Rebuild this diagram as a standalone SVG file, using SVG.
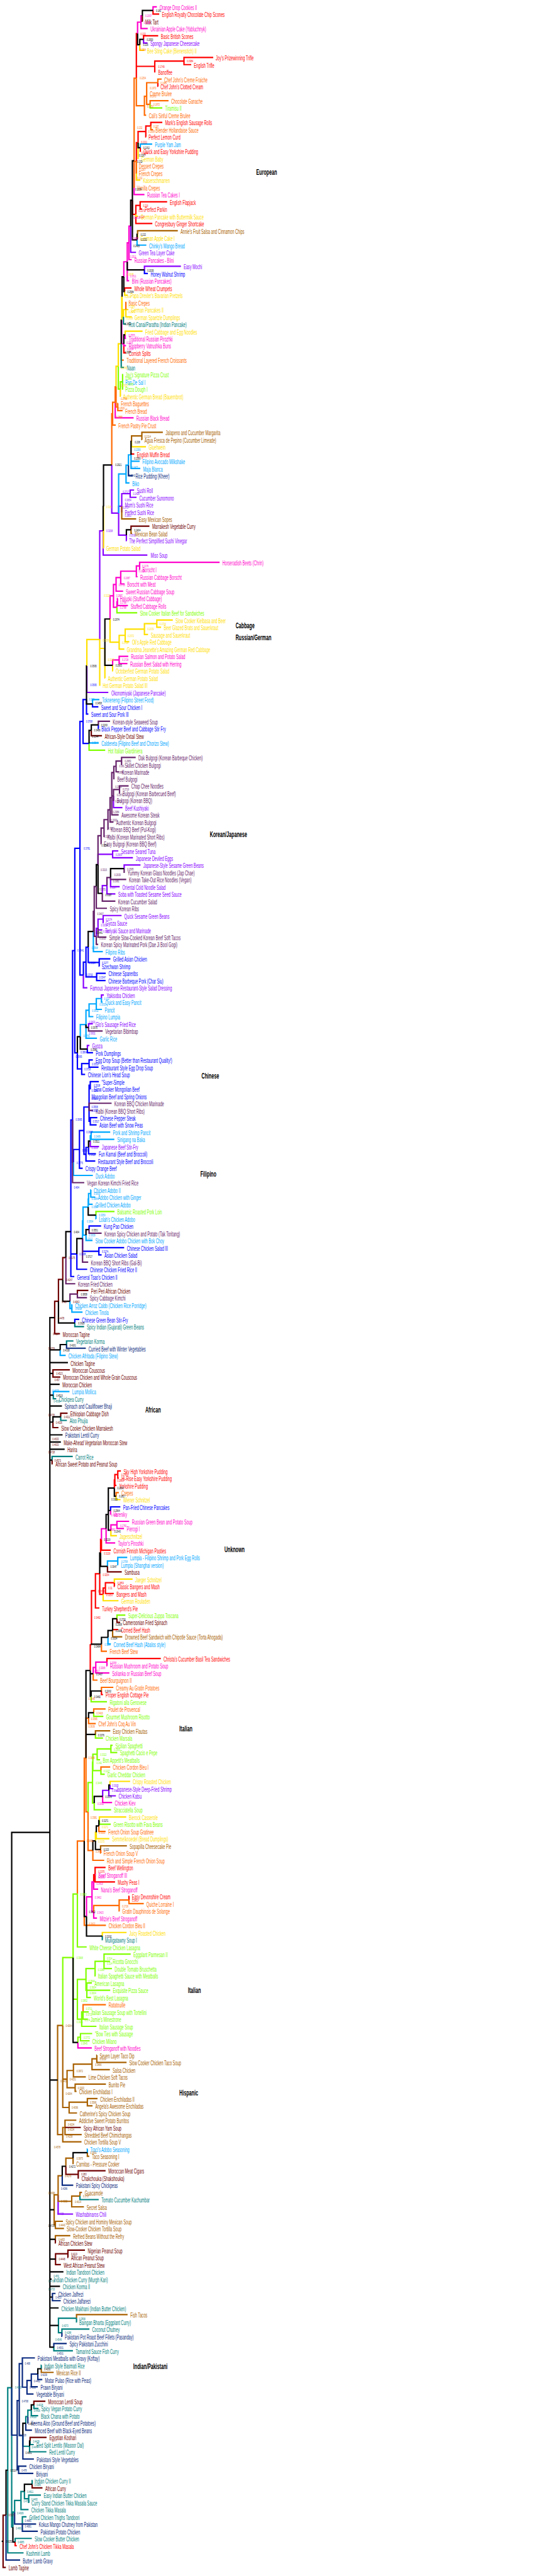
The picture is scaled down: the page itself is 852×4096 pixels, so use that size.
<svg xmlns="http://www.w3.org/2000/svg" width="852" height="4096" viewBox="0 0 852 4096">
<style>
.e path{fill:none;stroke-width:8}
.lab text,.cl text,.num text{stroke:none;font-family:"Liberation Sans",Arial,sans-serif;font-size:38px;dominant-baseline:central;transform:scaleX(.545);transform-box:fill-box;transform-origin:0 50%}
.cl text{font-weight:bold;font-size:46px;fill:#000;transform:scaleX(.57)}
.num text{font-size:22px;transform:scaleX(.55)}
.k{stroke:#000;fill:#000}.r{stroke:#f00;fill:#f00}.m{stroke:#f0c;fill:#f0c}.p{stroke:#80f;fill:#80f}.y{stroke:#ffe000;fill:#ffe000}.o{stroke:#ff6a00;fill:#ff6a00}.l{stroke:#80ff00;fill:#80ff00}.b{stroke:#00f;fill:#00f}.c{stroke:#00a8ff;fill:#00a8ff}.n{stroke:#a86000;fill:#a86000}.d{stroke:#700000;fill:#700000}.q{stroke:#66226a;fill:#66226a}.t{stroke:#008080;fill:#008080}.v{stroke:#0a2a80;fill:#0a2a80}
</style>
<rect width="852" height="4096" fill="#fff"/>
<g transform="scale(.27333)">
<g id="connectors" class="e">
<path class="r" d="M890 61V82H926M835 229V208H920M1070 355V334H1240M1070 355V376H1112M900 386V418H904M918 481V502H920M877 733V712H944M848 765V796H850M816 859V880H820M815 1195V1174H972M815 1195V1216H826M790 1247V1300H886M725 1696V1675H765M720 2000V2053H733M762 2646V2641H781M685 8578V8557H703M685 8578V8599H691M668 8610V8641H677M590 8955V9018H644M665 9207V9228H667M613 9238V9270H662M555 9254V9354H578M655 9485V9480H687M622 9669V9648H935M590 9837V9858H599M553 10906V10864H614M553 10906V10948H669M750 11053V11032H753M88 14788V14809H98M793 455V195H800M900 386V355H1070M793 455V386H900M848 765V733H877M803 830V765H848M793 939V830H803M790 1247V1195H815M770 1165V1247H790M668 8610V8578H685M665 8657V8610H668M585 9034V8955H590M613 9238V9207H665M600 9275V9238H613M580 9155V9275H600M555 9254V9155H580M532 9568V9254H555M525 9718V9568H532M545 10948V10906H553"/>
<path class="m" d="M890 61V40H912M820 129V166H859M780 935V1132H840M750 1413V1510H766M740 1523V1633H751M728 1948V1969H733M720 2000V2011H733M670 2340V2431H777M812 3292V3271H1277M812 3292V3313H813M793 3323V3355H800M702 3360V3397H724M675 3400V3439H716M683 3502V3481H684M683 3502V3523H744M693 3839V3818H746M693 3839V3860H741M643 8787V8808H646M680 8871V8850H751M680 8871V8892H721M617 8893V8976H670M622 9669V9690H624M557 9700V9732H636M597 10450V10486H652M553 10906H557M545 10948V10990H571M545 11121V11158H564M453 11882V11914H534M820 129V92H828M800 195V129H820M750 1413V1316H760M740 1523V1413H750M720 1610V1523H740M708 1863V2000H720M793 3323V3292H812M702 3360V3323H793M675 3400V3360H702M660 3466V3400H675M680 3533V3502H683M660 3466V3533H680M640 3601V3466H660M655 3870V3839H693M645 8902V8871H680M590 8955V8893H617M557 9700V9669H622M542 9737V9700H557M535 11035V10948H545M535 11035V11121H545M503 11149V11035H535"/>
<path class="p" d="M835 229V250H858M760 1316V1468H791M840 1570V1549H1052M757 2872V2851H780M757 2872V2893H794M708 2945V2935H712M708 2945V2977H712M735 3113V3145H737M600 3088V3229H857M505 3874V4028H630M660 4630V4698H712M655 4970V4950H688M655 4970V4990H773M722 5053V5032H817M643 5105V5158H696M622 5152V5200H671M600 5347V5326H707M600 5347V5368H602M570 5400V5410H595M485 5672V5746H508M590 5809V5788H604M515 5977V5956H540M508 6103V6082H520M525 6638V6670H576M640 10384V10405H659M633 10415V10447H674M338 12768V12880H425M708 2945V2872H757M690 2985V2945H708M690 2985V3113H735M650 2705V2985H690M580 3720V3088H600M570 5030V4970H655M595 5197V5152H622M570 5400V5347H600M560 5447V5400H570M597 10450V10415H633"/>
<path class="y" d="M813 260V292H840M803 830V922H806M793 939V1048H816M790 1247V1258H803M800 1363V1384H803M725 1696V1717H743M732 1801H747M732 1801V1843H767M728 1948V1927H829M700 2263V2305H703M765 2568V2599H849M602 2946V3187H604M912 3628V3607H1005M912 3628V3649H937M840 3660V3691H861M728 3696V3733H752M693 3736V3776H723M655 3870V3902H657M610 3772V3944H612M580 3720V3986H584M675 8704V8724H701M645 8902V8934H680M665 9207V9186H771M600 9275V9312H689M640 10384V10363H757M578 10591V10570H734M560 10659V10696H636M595 11263V11242H736M718 1843V1801H732M710 1726V1843H718M708 1863V1726H710M688 2131V2000H705M675 2250V2131H688M840 3660V3628H912M728 3696V3660H840M693 3736V3696H728M640 3601V3736H693M580 3720V3772H610M505 3874V3720H580M555 10709V10659H560"/>
<path class="o" d="M918 481V460H940M853 560V544H856M873 607V586H980M840 615V670H850M877 733V754H890M793 939V964H796M793 939V1006H796M780 935V1090H782M732 1801V1759H735M705 2000V2095H720M685 2368V2347H687M685 2368V2389H713M655 2407V2473H673M675 8704V8683H691M590 9565V9606H622M542 9737V9774H567M590 9837V9816H659M545 9964V9942H614M515 9995V10027H557M587 10300V10279H641M575 10622V10654H614M585 10759V10780H587M540 10765V10822H606M750 11053V11074H836M693 11085V11116H696M490 10710V11200H616M483 11704V11662H616M853 560V481H918M853 560V607H873M840 615V560H853M793 455V615H840M780 935V455H793M780 935V939H793M675 2250V2368H685M670 2340V2250H675M655 2407V2340H670M650 2705V2407H655M500 10228V9995H515M512 10540V10765H540M500 10228V10540H512M490 10710V10228H500M693 11085V11053H750M545 11121V11085H693M450 11018V10710H490"/>
<path class="l" d="M873 607V628H944M713 2221V2179H716M713 2221V2263H716M680 3533V3565H798M518 4325V4364H612M558 7069V7048H666M680 9417V9396H729M530 9868V9900H622M545 9964V9985H601M555 10090V10111H599M645 10174V10153H655M645 10174V10195H682M565 10205V10237H582M587 10300V10321H609M548 10489V10528H646M578 10591V10612H644M450 11018V11326H504M605 11410V11368H760M605 11410H640M605 11410V11452H651M553 11452V11494H556M505 11578V11536H534M505 11578H641M505 11578V11620H529M483 11704H516M483 11704V11746H511M475 11746V11788H561M468 11851V11830H536M468 11851V11872H521M700 2263V2221H713M688 2131V2263H700M565 10205V10174H645M540 10252V10205H565M540 10252V10300H587M538 10370V10252H540M538 10370V10489H548M512 10540V10370H538M425 11388V11018H450M553 11452V11410H605M500 11515V11452H553M500 11515V11578H505M450 11630V11515H500M475 11746V11704H483M450 11630V11746H475M425 11388V11630H450M453 11882V11851H468M365 11783V11388H425"/>
<path class="b" d="M840 1570V1591H860M538 4095V4112H572M503 4070V4154H514M572 4217V4238H574M577 5599V5578H642M577 5599V5620H579M562 5683V5662H615M562 5683V5704H614M508 6103V6124H541M518 6187V6166H540M518 6187V6208H573M475 6218V6250H495M525 6313V6292H575M525 6313V6334H529M518 6440V6376H522M525 6523V6502H566M525 6523V6544H562M515 6675V6712H558M500 6715V6754H554M462 6687V6796H481M518 7153V7132H588M575 7279V7258H722M575 7279V7300H591M447 7295V7384H507M412 7165V7426H432M435 7696V7675H461M643 8787V8766H700M483 4197V4070H503M483 4197V4325H518M465 4935V4197H483M513 5510V5599H577M500 5597V5510H513M500 5597V5683H562M485 5672V5597H500M465 4935V5672H485M435 5530V4935H465M475 6218V6187H518M450 6125V6218H475M435 5530V6125H450M422 6515V5530H435M518 6440V6313H525M518 6440V6523H525M488 6577V6440H518M500 6715V6675H515M488 6577V6715H500M462 6687V6577H488M427 6762V6687H462M422 6515V6762H427M412 7165V6515H422M480 7205V7279H575M412 7165V7295H447"/>
<path class="c" d="M816 859V838H885M797 1395V1426H851M713 2221H716M762 2646V2683H812M762 2646V2725H816M733 2757V2809H753M538 4095V4070H578M518 4325V4322H574M543 5419V5536H598M590 5809V5830H597M560 5840V5872H593M518 5877V5914H543M500 5960V6040H564M530 6607V6586H641M530 6607V6628H665M427 6762V6838H540M528 6943V6922H529M528 6943V6964H554M515 6975V7006H539M558 7069V7090H559M500 7185V7216H538M418 7612V7591H421M418 7612V7633H480M350 7853V7885H382M310 8116V8095H404M685 9081V9060H740M685 9081V9102H688M628 9525V9564H644M508 12523V12502H509M747 2706V2646H762M733 2757V2706H747M690 2985V2757H733M560 5840V5809H590M518 5877V5840H560M500 5960V5877H518M467 6031V5960H500M525 6638V6607H530M515 6975V6943H528M513 7022V6975H515M483 7103V7022H513M483 7103V7185H500M480 7205V7103H483M407 7570V7612H418M625 9112V9081H685"/>
<path class="n" d="M800 1363V1342H1034M825 2536V2515H947M825 2536V2557H827M708 2945V3019H792M762 3082V3103H768M655 9485V9522H711M555 10090V10069H641M585 10759V10738H738M563 11977V11956H564M563 11977V11998H736M535 12008V12040H639M427 12045V12082H499M437 12145V12124H616M437 12145V12166H445M508 12229V12208H567M508 12229V12250H538M402 12260V12292H448M378 12376V12334H444M378 12376V12418H475M365 12418V12460H474M508 12523V12544H519M425 12555V12586H428M465 12775V12754H477M417 12806V12838H488M322 12943V12922H366M322 12943V12964H372M322 13027V13006H409M445 13486V13465H742M240 13780V13801H312M765 2568V2536H825M535 12008V11977H563M427 12045V12008H535M390 12095V12045H427M390 12095V12145H437M365 11783V12095H390M402 12260V12229H508M365 11783V12260H402M335 12100V11783H365M365 12418V12376H378M335 12100V12418H365M383 12602V12555H425M338 12768V12657H362M417 12806V12775H465M338 12768V12806H417M315 12855V12768H338M315 12855V12943H322"/>
<path class="d" d="M828 92V124H829M762 3082V3061H869M531 4249V4280H593M450 7528V7507H514M318 7665V7759H349M308 7990V7969H406M308 7990V8011H351M353 8242V8221H393M308 8273V8305H340M303 8494V8515H307M625 9112V9144H708M680 9417V9438H699M378 12376H470M455 12649V12628H614M455 12649V12670H459M322 13027V13048H324M395 13111V13090H494M395 13111V13132H397M323 13142V13174H354M197 13990V13969H264M175 14200V14179H271M187 14452V14473H247M18 14784V14936H34M340 7570V7443H365M365 7443V7316H383M318 7665V7570H340M383 12602V12649H455M323 13142V13111H395M18 14784V14632H35"/>
<path class="q" d="M572 4217V4196H640M707 4427V4406H789M707 4427V4448H709M675 4458V4490H693M662 4494V4530H666M695 4593V4572H748M695 4593V4614H697M660 4630V4656H664M650 4640V4740H690M640 4711V4782H660M628 4768V4824H629M605 4817V4866H609M588 4862V4908H590M722 5053V5074H726M643 5105V5116H734M595 5197V5242H671M560 5157V5284H622M570 5400V5452H619M560 5447V5494H571M515 5977V5998H597M518 6440V6418H649M518 6440V6460H541M422 6515V6880H490M518 7153V7174H591M480 7205V7342H513M383 7316V7468H438M450 7528V7549H506M675 4458V4427H707M662 4494V4458H675M650 4640V4494H662M660 4630V4593H695M650 4640V4630H660M640 4711V4640H650M628 4768V4711H640M605 4817V4768H628M588 4862V4817H605M570 5030V4862H588M622 5152V5105H643M548 5302V5157H560M548 5302V5447H560M543 5419V5302H548M407 7570V7528H450"/>
<path class="t" d="M718 1843V1885H732M705 2000V2137H721M435 7696V7717H489M387 7822V7801H427M310 8116V8137H327M353 8242V8263H389M303 8494V8473H423M595 11263V11284H598M465 12775V12796H574M445 13486V13507H448M360 13570V13549H520M313 13654V13675H424M240 13780V13759H241M197 13990V14011H224M182 14021V14053H222M175 14200V14221H196M172 14231V14263H270M187 14452V14431H190M167 14536V14515H238M167 14536V14557H170M122 14546V14599H166M130 14683V14641H154M88 14788V14767H185M45 14370V14851H137M340 13528V13486H445M340 13528V13570H360M162 14058V14021H182M150 14097V14058H162M133 14168V14231H172M142 14494V14536H167M122 14546V14494H142M85 14614V14546H122M75 14701V14614H85M68 13890V14701H75M45 14370V13890H68"/>
<path class="v" d="M747 2706V2767H772M387 7822V7843H499M362 12657V12712H426M305 13363V13342H323M305 13363V13384H353M360 13570V13591H362M313 13654V13633H388M130 13750V13717H203M220 13811V13843H246M182 13848V13885H220M157 13887V13927H195M162 14058V14095H164M150 14097V14137H186M133 14168V14305H197M108 14368V14347H154M108 14368V14389H194M130 14683H210M130 14683V14725H220M35 14632V14893H117M182 13848V13811H220M157 13887V13848H182M130 13750V13887H157M112 13965V13750H130M100 14166V13965H112M112 13965V14168H133M100 14166V14368H108M68 13890V14166H100M85 14614V14683H130"/>
<path class="k" d="M828 92V61H890M813 260V229H835M800 195V260H813M803 830V859H816M770 1165V935H780M797 1395V1363H800M770 1165V1395H797M760 1316V1165H770M740 1523V1570H840M720 1610V1696H725M710 1726V1610H720M720 2000V1948H728M705 2000V1863H708M762 2646V2568H765M735 3113V3082H762M602 2946V2705H650M600 3088V2946H602M610 3772V3601H640M610 3772V3870H655M503 4070V3874H505M503 4070V4095H538M531 4249V4217H572M518 4325V4249H531M643 5105V5053H722M570 5030V5197H595M560 5157V5030H570M513 5510V5419H543M500 5960V5977H515M467 6031V6103H508M450 6125V6031H467M515 6675V6638H525M513 7022V7069H558M500 7185V7153H518M447 7295V7205H480M383 7316V7165H412M365 7443V7570H407M340 7570V7696H435M350 7853V7822H387M665 8657V8704H675M630 8810V8657H665M630 8810V8787H643M630 8810V8902H645M617 8893V8810H630M585 9034V9112H625M580 9155V9034H585M655 9485V9417H680M628 9525V9485H655M590 9565V9525H628M532 9568V9565H590M525 9718V9737H542M530 9868V9837H590M525 9718V9868H530M500 10228V9718H525M515 9995V9964H545M500 10228V10090H555M633 10415V10384H640M548 10489V10450H597M575 10622V10591H578M560 10659V10622H575M555 10709V10759H585M540 10765V10709H555M503 11149V11263H595M490 10710V11149H503M425 11388V11882H453M425 12555V12523H508M362 12657V12602H383M220 13811V13780H240M182 14021V13990H197M133 14168V14097H150M172 14231V14200H175M142 14494V14452H187M75 14701V14788H88M35 14632V14370H45M10 14784H18M308 8273V8242H353M68 13890V10660H290M290 10660V7665H318M290 10660V7853H350M290 10660V7927H395M290 10660V7990H308M290 10660V8053H347M290 10660V8116H310M290 10660V8179H360M290 10660V8273H308M290 10660V8347H364M290 10660V8389H354M290 10660V8431H376M290 10660V8494H303M290 10660V12100H335M290 10660V12855H315M290 10660V13027H322M290 10660V13142H323M290 10660V13216H369M290 10660V13258H300M290 10660V13300H349M290 10660V13363H305M290 10660V13426H341M290 10660V13528H340M290 10660V13654H313"/>
</g>
<g id="leaves" class="lab">
<text class="m" x="928" y="44">Orange Drop Cookies II</text>
<text class="r" x="942" y="86">English Royalty Chocolate Chip Scones</text>
<text class="d" x="845" y="128">Milk Tart</text>
<text class="m" x="875" y="170">Ukrainian Apple Cake (Yabluchnyk)</text>
<text class="r" x="936" y="212">Basic British Scones</text>
<text class="p" x="874" y="254">Spongy Japanese Cheesecake</text>
<text class="y" x="856" y="296">Bee Sting Cake (Bienenstich) II</text>
<text class="r" x="1255" y="338">Joy's Prizewinning Trifle</text>
<text class="r" x="1128" y="380">English Trifle</text>
<text class="r" x="920" y="422">Banoffee</text>
<text class="o" x="956" y="464">Chef John's Creme Fraiche</text>
<text class="r" x="934" y="506">Chef John's Clotted Cream</text>
<text class="o" x="872" y="548">Creme Brulee</text>
<text class="o" x="996" y="590">Chocolate Ganache</text>
<text class="l" x="960" y="632">Tiramisu II</text>
<text class="o" x="866" y="674">Cali's Sinful Creme Brulee</text>
<text class="r" x="960" y="716">Mark's English Sausage Rolls</text>
<text class="o" x="905" y="758">Blender Hollandaise Sauce</text>
<text class="r" x="864" y="800">Perfect Lemon Curd</text>
<text class="c" x="901" y="842">Purple Yam Jam</text>
<text class="r" x="835" y="884">Quick and Easy Yorkshire Pudding</text>
<text class="y" x="822" y="926">German Baby</text>
<text class="o" x="808" y="968">Dessert Crepes</text>
<text class="o" x="808" y="1010">French Crepes</text>
<text class="y" x="832" y="1052">Kaiserschmarren</text>
<text class="o" x="797" y="1094">Vanilla Crepes</text>
<text class="m" x="856" y="1136">Russian Tea Cakes I</text>
<text class="r" x="988" y="1178">English Flapjack</text>
<text class="r" x="842" y="1220">Perfect Parkin</text>
<text class="y" x="819" y="1262">German Pancake with Buttermilk Sauce</text>
<text class="r" x="902" y="1304">Congresbury Ginger Shortcake</text>
<text class="n" x="1050" y="1346">Annie's Fruit Salsa and Cinnamon Chips</text>
<text class="y" x="818" y="1388">German Apple Cake I</text>
<text class="c" x="867" y="1430">Chinky's Mango Bread</text>
<text class="p" x="807" y="1472">Green Tea Layer Cake</text>
<text class="m" x="782" y="1514">Russian Pancakes - Blini</text>
<text class="p" x="1068" y="1553">Easy Mochi</text>
<text class="b" x="876" y="1595">Honey Walnut Shrimp</text>
<text class="m" x="767" y="1637">Blini (Russian Pancakes)</text>
<text class="r" x="781" y="1679">Whole Wheat Crumpets</text>
<text class="y" x="759" y="1721">Papa Drexler's Bavarian Pretzels</text>
<text class="o" x="748" y="1763">Basic Crepes</text>
<text class="y" x="763" y="1805">German Pancakes II</text>
<text class="y" x="783" y="1847">German Spaetzle Dumplings</text>
<text class="t" x="748" y="1889">Roti Canai/Paratha (Indian Pancake)</text>
<text class="y" x="845" y="1931">Fried Cabbage and Egg Noodles</text>
<text class="m" x="749" y="1973">Traditional Russian Pirozhki</text>
<text class="m" x="749" y="2015">Raspberry Vatrushka Buns</text>
<text class="r" x="749" y="2057">Cornish Splits</text>
<text class="o" x="736" y="2099">Traditional Layered French Croissants</text>
<text class="t" x="737" y="2141">Naan</text>
<text class="l" x="729" y="2183">Jay's Signature Pizza Crust</text>
<text class="c" x="729" y="2225">Pan De Sal I</text>
<text class="l" x="729" y="2267">Pizza Dough I</text>
<text class="y" x="716" y="2309">Authentic German Bread (Bauernbrot)</text>
<text class="o" x="703" y="2351">French Baguettes</text>
<text class="o" x="729" y="2393">French Bread</text>
<text class="m" x="793" y="2435">Russian Black Bread</text>
<text class="o" x="689" y="2477">French Pastry Pie Crust</text>
<text class="n" x="963" y="2519">Jalapeno and Cucumber Margarita</text>
<text class="n" x="841" y="2561">Agua Fresca de Pepino (Cucumber Limeade)</text>
<text class="y" x="865" y="2603">Gluehwein</text>
<text class="r" x="797" y="2645">English Muffin Bread</text>
<text class="c" x="828" y="2687">Filipino Avocado Milkshake</text>
<text class="c" x="832" y="2729">Maja Blanca</text>
<text class="v" x="788" y="2771">Rice Pudding (Kheer)</text>
<text class="c" x="769" y="2813">Biko</text>
<text class="p" x="796" y="2855">Sushi Roll</text>
<text class="p" x="810" y="2897">Cucumber Sunomono</text>
<text class="p" x="726" y="2939">Mom's Sushi Rice</text>
<text class="p" x="726" y="2981">Perfect Sushi Rice</text>
<text class="n" x="808" y="3023">Easy Mexican Sopes</text>
<text class="d" x="885" y="3065">Marrakesh Vegetable Curry</text>
<text class="n" x="784" y="3107">Mexican Bean Salad</text>
<text class="p" x="751" y="3149">The Perfect Simplified Sushi Vinegar</text>
<text class="y" x="618" y="3191">German Potato Salad</text>
<text class="p" x="876" y="3233">Miso Soup</text>
<text class="m" x="1293" y="3275">Horseradish Beets (Chrin)</text>
<text class="m" x="829" y="3317">Borscht I</text>
<text class="m" x="816" y="3359">Russian Cabbage Borscht</text>
<text class="m" x="740" y="3401">Borscht with Meat</text>
<text class="m" x="732" y="3443">Sweet Russian Cabbage Soup</text>
<text class="m" x="698" y="3485">Halupki (Stuffed Cabbage)</text>
<text class="m" x="760" y="3527">Stuffed Cabbage Rolls</text>
<text class="l" x="814" y="3569">Slow Cooker Italian Beef for Sandwiches</text>
<text class="y" x="1021" y="3611">Slow Cooker Kielbasa and Beer</text>
<text class="y" x="953" y="3653">Beer Glazed Brats and Sauerkraut</text>
<text class="y" x="877" y="3695">Sausage and Sauerkraut</text>
<text class="y" x="768" y="3737">Oli's Apple Red Cabbage</text>
<text class="y" x="738" y="3780">Grandma Jeanette's Amazing German Red Cabbage</text>
<text class="m" x="762" y="3822">Russian Salmon and Potato Salad</text>
<text class="m" x="757" y="3864">Russian Beet Salad with Herring</text>
<text class="y" x="673" y="3906">Octoberfest German Potato Salad</text>
<text class="y" x="628" y="3948">Authentic German Potato Salad</text>
<text class="y" x="598" y="3990">Hot German Potato Salad III</text>
<text class="p" x="648" y="4032">Okonomiyaki (Japanese Pancake)</text>
<text class="c" x="594" y="4074">Tokneneng (Filipino Street Food)</text>
<text class="b" x="588" y="4116">Sweet and Sour Chicken I</text>
<text class="b" x="530" y="4158">Sweet and Sour Pork III</text>
<text class="q" x="656" y="4200">Korean-style Seaweed Soup</text>
<text class="b" x="590" y="4242">Black Pepper Beef and Cabbage Stir Fry</text>
<text class="d" x="609" y="4284">African-Style Oxtail Stew</text>
<text class="c" x="590" y="4326">Caldereta (Filipino Beef and Chorizo Stew)</text>
<text class="l" x="628" y="4368">Hot Italian Giardiniera</text>
<text class="q" x="805" y="4410">Dak Bulgogi (Korean Barbeque Chicken)</text>
<text class="q" x="725" y="4452">Skillet Chicken Bulgogi</text>
<text class="q" x="709" y="4494">Korean Marinade</text>
<text class="q" x="682" y="4534">Beef Bulgogi</text>
<text class="q" x="764" y="4576">Chap Chee Noodles</text>
<text class="q" x="713" y="4618">Bulgogi (Korean Barbecued Beef)</text>
<text class="q" x="680" y="4660">Bulgogi (Korean BBQ)</text>
<text class="p" x="728" y="4702">Beef Kushiyaki</text>
<text class="q" x="706" y="4744">Awesome Korean Steak</text>
<text class="q" x="676" y="4786">Authentic Korean Bulgogi</text>
<text class="q" x="645" y="4828">Korean BBQ Beef (Pul-Kogi)</text>
<text class="q" x="625" y="4870">Kalbi (Korean Marinated Short Ribs)</text>
<text class="q" x="605" y="4912">Easy Bulgogi (Korean BBQ Beef)</text>
<text class="p" x="704" y="4954">Sesame Seared Tuna</text>
<text class="p" x="789" y="4994">Japanese Deviled Eggs</text>
<text class="p" x="833" y="5036">Japanese-Style Sesame Green Beans</text>
<text class="q" x="742" y="5078">Yummy Korean Glass Noodles (Jap Chae)</text>
<text class="q" x="750" y="5120">Korean Take-Out Rice Noodles (Vegan)</text>
<text class="p" x="712" y="5162">Oriental Cold Noodle Salad</text>
<text class="p" x="687" y="5204">Soba with Toasted Sesame Seed Sauce</text>
<text class="q" x="687" y="5246">Korean Cucumber Salad</text>
<text class="q" x="638" y="5288">Spicy Korean Ribs</text>
<text class="p" x="723" y="5330">Quick Sesame Green Beans</text>
<text class="p" x="615" y="5372">Gyoza Sauce</text>
<text class="p" x="611" y="5414">Teriyaki Sauce and Marinade</text>
<text class="q" x="635" y="5456">Simple Slow-Cooked Korean Beef Soft Tacos</text>
<text class="q" x="587" y="5498">Korean Spicy Marinated Pork (Dae Ji Bool Gogi)</text>
<text class="c" x="614" y="5540">Filipino Ribs</text>
<text class="b" x="658" y="5582">Grilled Asian Chicken</text>
<text class="b" x="592" y="5624">Szechwan Shrimp</text>
<text class="b" x="631" y="5666">Chinese Spareribs</text>
<text class="b" x="630" y="5708">Chinese Barbeque Pork (Char Siu)</text>
<text class="p" x="524" y="5750">Famous Japanese Restaurant-Style Salad Dressing</text>
<text class="p" x="620" y="5792">Yakisoba Chicken</text>
<text class="c" x="613" y="5834">Quick and Easy Pancit</text>
<text class="c" x="609" y="5876">Pancit</text>
<text class="c" x="559" y="5918">Filipino Lumpia</text>
<text class="p" x="556" y="5960">Glo's Sausage Fried Rice</text>
<text class="q" x="612" y="6002">Vegetarian Bibimbap</text>
<text class="c" x="580" y="6044">Garlic Rice</text>
<text class="p" x="536" y="6086">Gyoza</text>
<text class="b" x="557" y="6128">Pork Dumplings</text>
<text class="b" x="556" y="6170">Egg Drop Soup (Better than Restaurant Quality!)</text>
<text class="b" x="589" y="6212">Restaurant Style Egg Drop Soup</text>
<text class="b" x="511" y="6254">Chinese Lion's Head Soup</text>
<text class="b" x="591" y="6296">"Super-Simple</text>
<text class="b" x="545" y="6338">Slow Cooker Mongolian Beef</text>
<text class="b" x="532" y="6380">Mongolian Beef and Spring Onions</text>
<text class="q" x="665" y="6422">Korean BBQ Chicken Marinade</text>
<text class="q" x="557" y="6464">Kalbi (Korean BBQ Short Ribs)</text>
<text class="b" x="582" y="6506">Chinese Pepper Steak</text>
<text class="b" x="578" y="6548">Asian Beef with Snow Peas</text>
<text class="c" x="657" y="6590">Pork and Shrimp Pancit</text>
<text class="c" x="681" y="6632">Sinigang na Baka</text>
<text class="p" x="592" y="6674">Japanese Beef Stir-Fry</text>
<text class="b" x="574" y="6716">Fun Karnal (Beef and Broccoli)</text>
<text class="b" x="570" y="6758">Restaurant Style Beef and Broccoli</text>
<text class="b" x="497" y="6800">Crispy Orange Beef</text>
<text class="c" x="556" y="6842">Duck Adobo</text>
<text class="q" x="506" y="6884">Vegan Korean Kimchi Fried Rice</text>
<text class="c" x="545" y="6926">Chicken Adobo II</text>
<text class="c" x="570" y="6968">Adobo Chicken with Ginger</text>
<text class="c" x="555" y="7010">Grilled Chicken Adobo</text>
<text class="l" x="682" y="7052">Balsamic Roasted Pork Loin</text>
<text class="c" x="575" y="7094">Lolah's Chicken Adobo</text>
<text class="b" x="604" y="7136">Kung Pao Chicken</text>
<text class="q" x="607" y="7178">Korean Spicy Chicken and Potato (Tak Toritang)</text>
<text class="c" x="554" y="7220">Slow Cooker Adobo Chicken with Bok Choy</text>
<text class="b" x="738" y="7262">Chinese Chicken Salad III</text>
<text class="b" x="607" y="7304">Asian Chicken Salad</text>
<text class="q" x="529" y="7346">Korean BBQ Short Ribs (Gal-Bi)</text>
<text class="b" x="523" y="7388">Chinese Chicken Fried Rice II</text>
<text class="b" x="448" y="7430">General Tsao's Chicken II</text>
<text class="q" x="454" y="7472">Korean Fried Chicken</text>
<text class="d" x="530" y="7511">Peri Peri African Chicken</text>
<text class="q" x="522" y="7553">Spicy Cabbage Kimchi</text>
<text class="c" x="437" y="7595">Chicken Arroz Caldo (Chicken Rice Porridge)</text>
<text class="c" x="496" y="7637">Chicken Tinola</text>
<text class="b" x="477" y="7679">Chinese Green Bean Stir-Fry</text>
<text class="t" x="505" y="7721">Spicy Indian (Gujarati) Green Beans</text>
<text class="d" x="365" y="7763">Moroccan Tagine</text>
<text class="t" x="443" y="7805">Vegetarian Korma</text>
<text class="v" x="515" y="7847">Curried Beef with Winter Vegetables</text>
<text class="c" x="398" y="7889">Chicken Afritada (Filipino Stew)</text>
<text class="d" x="411" y="7931">Chicken Tagine</text>
<text class="d" x="422" y="7973">Moroccan Couscous</text>
<text class="d" x="367" y="8015">Moroccan Chicken and Whole Grain Couscous</text>
<text class="d" x="363" y="8057">Moroccan Chicken</text>
<text class="c" x="420" y="8099">Lumpia Mollica</text>
<text class="t" x="343" y="8141">Chickpea Curry</text>
<text class="v" x="376" y="8183">Spinach and Cauliflower Bhaji</text>
<text class="d" x="409" y="8225">Ethiopian Cabbage Dish</text>
<text class="t" x="405" y="8267">Aloo Phujia</text>
<text class="d" x="356" y="8309">Slow Cooker Chicken Marrakesh</text>
<text class="v" x="380" y="8351">Pakistani Lentil Curry</text>
<text class="d" x="370" y="8393">Make-Ahead Vegetarian Moroccan Stew</text>
<text class="d" x="392" y="8435">Harira</text>
<text class="t" x="439" y="8477">Carrot Rice</text>
<text class="d" x="323" y="8519">African Sweet Potato and Peanut Soup</text>
<text class="r" x="719" y="8561">Sky High Yorkshire Pudding</text>
<text class="r" x="707" y="8603">Hi-Rise Easy Yorkshire Pudding</text>
<text class="r" x="693" y="8645">Yorkshire Pudding</text>
<text class="o" x="707" y="8687">Crepes</text>
<text class="y" x="717" y="8728">Wiener Schnitzel</text>
<text class="b" x="716" y="8770">Pan-Fried Chinese Pancakes</text>
<text class="m" x="660" y="8812">Vareniky</text>
<text class="m" x="767" y="8854">Russian Green Bean and Potato Soup</text>
<text class="m" x="737" y="8896">Pierogi I</text>
<text class="y" x="695" y="8938">Jagerschnitzel</text>
<text class="m" x="686" y="8980">Taylor's Piroshki</text>
<text class="r" x="660" y="9022">Cornish Finnish Michigan Pasties</text>
<text class="c" x="756" y="9064">Lumpia - Filipino Shrimp and Pork Egg Rolls</text>
<text class="c" x="704" y="9106">Lumpia (Shanghai version)</text>
<text class="d" x="724" y="9148">Sambusa</text>
<text class="y" x="787" y="9190">Jaeger Schnitzel</text>
<text class="r" x="683" y="9232">Classic Bangers and Mash</text>
<text class="r" x="678" y="9274">Bangers and Mash</text>
<text class="y" x="705" y="9316">German Rouladen</text>
<text class="r" x="594" y="9358">Turkey Shepherd's Pie</text>
<text class="l" x="745" y="9400">Super-Delicious Zuppa Toscana</text>
<text class="d" x="715" y="9442">Cameroonian Fried Spinach</text>
<text class="r" x="703" y="9484">Corned Beef Hash</text>
<text class="n" x="727" y="9526">Drowned Beef Sandwich with Chipotle Sauce (Torta Ahogada)</text>
<text class="c" x="660" y="9568">Corned Beef Hash (Abalos style)</text>
<text class="o" x="638" y="9610">French Beef Stew</text>
<text class="r" x="951" y="9652">Christa's Cucumber Basil Tea Sandwiches</text>
<text class="m" x="640" y="9694">Russian Mushroom and Potato Soup</text>
<text class="m" x="652" y="9736">Solianka or Russian Beef Soup</text>
<text class="o" x="583" y="9778">Beef Bourguignon II</text>
<text class="o" x="675" y="9820">Creamy Au Gratin Potatoes</text>
<text class="r" x="615" y="9862">Proper English Cottage Pie</text>
<text class="l" x="638" y="9904">Rigatoni alla Genovese</text>
<text class="o" x="630" y="9946">Poulet de Provencal</text>
<text class="l" x="617" y="9989">Gourmet Mushroom Risotto</text>
<text class="o" x="573" y="10031">Chef John's Coq Au Vin</text>
<text class="n" x="657" y="10073">Easy Chicken Flautas</text>
<text class="l" x="615" y="10115">Chicken Marsala</text>
<text class="l" x="671" y="10157">Sicilian Spaghetti</text>
<text class="l" x="698" y="10199">Spaghetti Cacio e Pepe</text>
<text class="l" x="598" y="10241">Bon Appetit's Meatballs</text>
<text class="o" x="657" y="10283">Chicken Cordon Bleu I</text>
<text class="l" x="625" y="10325">Garlic Cheddar Chicken</text>
<text class="y" x="773" y="10367">Crispy Roasted Chicken</text>
<text class="p" x="675" y="10409">Japanese-Style Deep-Fried Shrimp</text>
<text class="p" x="690" y="10451">Chicken Katsu</text>
<text class="m" x="668" y="10490">Chicken Kiev</text>
<text class="l" x="662" y="10532">Stracciatella Soup</text>
<text class="y" x="750" y="10574">Bierock Casserole</text>
<text class="l" x="660" y="10616">Green Risotto with Fava Beans</text>
<text class="o" x="630" y="10658">French Onion Soup Gratinee</text>
<text class="y" x="652" y="10700">Semmelknoedel (Bread Dumplings)</text>
<text class="n" x="754" y="10742">Sopapilla Cheesecake Pie</text>
<text class="o" x="603" y="10784">French Onion Soup V</text>
<text class="o" x="622" y="10826">Rich and Simple French Onion Soup</text>
<text class="r" x="630" y="10868">Beef Wellington</text>
<text class="m" x="573" y="10910">Beef Stroganoff III</text>
<text class="r" x="685" y="10952">Mushy Peas I</text>
<text class="m" x="587" y="10994">Nana's Beef Stroganoff</text>
<text class="r" x="767" y="11036">Easy Devonshire Cream</text>
<text class="o" x="852" y="11078">Quiche Lorraine I</text>
<text class="o" x="712" y="11120">Gratin Dauphinois de Solange</text>
<text class="m" x="580" y="11162">Mitzie's Beef Stroganoff</text>
<text class="o" x="632" y="11204">Chicken Cordon Bleu II</text>
<text class="y" x="752" y="11246">Juicy Roasted Chicken</text>
<text class="t" x="611" y="11288">Mulligatawny Soup I</text>
<text class="l" x="520" y="11330">White Cheese Chicken Lasagna</text>
<text class="l" x="776" y="11372">Eggplant Parmesan II</text>
<text class="l" x="656" y="11414">Ricotta Gnocchi</text>
<text class="l" x="667" y="11456">Double Tomato Bruschetta</text>
<text class="l" x="570" y="11498">Italian Spaghetti Sauce with Meatballs</text>
<text class="l" x="550" y="11540">American Lasagna</text>
<text class="l" x="657" y="11582">Exquisite Pizza Sauce</text>
<text class="l" x="545" y="11624">World's Best Lasagna</text>
<text class="o" x="632" y="11666">Ratatouille</text>
<text class="l" x="532" y="11708">Italian Sausage Soup with Tortellini</text>
<text class="l" x="527" y="11750">Jamie's Minestrone</text>
<text class="l" x="577" y="11792">Italian Sausage Soup</text>
<text class="l" x="552" y="11834">"Bow Ties with Sausage</text>
<text class="l" x="537" y="11876">Chicken Milano</text>
<text class="m" x="550" y="11918">Beef Stroganoff with Noodles</text>
<text class="n" x="580" y="11960">Seven Layer Taco Dip</text>
<text class="n" x="752" y="12002">Slow Cooker Chicken Taco Soup</text>
<text class="n" x="655" y="12044">Salsa Chicken</text>
<text class="n" x="515" y="12086">Lime Chicken Soft Tacos</text>
<text class="n" x="632" y="12128">Burrito Pie</text>
<text class="n" x="461" y="12170">Chicken Enchiladas I</text>
<text class="n" x="583" y="12212">Chicken Enchiladas II</text>
<text class="n" x="554" y="12254">Angela's Awesome Enchiladas</text>
<text class="n" x="464" y="12296">Catherine's Spicy Chicken Soup</text>
<text class="n" x="460" y="12338">Addictive Sweet Potato Burritos</text>
<text class="d" x="486" y="12380">Spicy African Yam Soup</text>
<text class="n" x="491" y="12422">Shredded Beef Chimichangas</text>
<text class="n" x="490" y="12464">Chicken Tortilla Soup V</text>
<text class="c" x="525" y="12506">Traci's Adobo Seasoning</text>
<text class="n" x="535" y="12548">Taco Seasoning I</text>
<text class="n" x="444" y="12590">Carnitas - Pressure Cooker</text>
<text class="d" x="630" y="12632">Moroccan Meat Cigars</text>
<text class="d" x="475" y="12674">Chakchouka (Shakshouka)</text>
<text class="v" x="442" y="12716">Pakistani Spicy Chickpeas</text>
<text class="n" x="493" y="12758">Guacamole</text>
<text class="t" x="590" y="12800">Tomato Cucumber Kachumbar</text>
<text class="n" x="504" y="12842">Secret Salsa</text>
<text class="p" x="441" y="12884">Washabinaros Chili</text>
<text class="n" x="382" y="12926">Spicy Chicken and Hominy Mexican Soup</text>
<text class="n" x="388" y="12968">Slow-Cooker Chicken Tortilla Soup</text>
<text class="n" x="425" y="13010">Refried Beans Without the Refry</text>
<text class="d" x="340" y="13052">African Chicken Stew</text>
<text class="d" x="510" y="13094">Nigerian Peanut Soup</text>
<text class="d" x="413" y="13136">African Peanut Soup</text>
<text class="d" x="370" y="13178">West African Peanut Stew</text>
<text class="t" x="385" y="13220">Indian Tandoori Chicken</text>
<text class="t" x="313" y="13262">Indian Chicken Curry (Murgh Kari)</text>
<text class="t" x="365" y="13304">Chicken Korma II</text>
<text class="v" x="339" y="13346">Chicken Jalfrezi</text>
<text class="v" x="369" y="13388">Chicken Jalfarezi</text>
<text class="t" x="357" y="13430">Chicken Makhani (Indian Butter Chicken)</text>
<text class="n" x="758" y="13469">Fish Tacos</text>
<text class="t" x="461" y="13511">Baingan Bharta (Eggplant Curry)</text>
<text class="t" x="536" y="13553">Coconut Chutney</text>
<text class="v" x="377" y="13595">Pakistani Pot Roast Beef Fillets (Pasanday)</text>
<text class="v" x="404" y="13637">Spicy Pakistani Zucchini</text>
<text class="t" x="440" y="13679">Tamarind Sauce Fish Curry</text>
<text class="v" x="219" y="13721">Pakistani Meatballs with Gravy (Koftay)</text>
<text class="t" x="257" y="13763">Indian Style Basmati Rice</text>
<text class="n" x="328" y="13805">Mexican Rice II</text>
<text class="v" x="262" y="13847">Matar Pulao (Rice with Peas)</text>
<text class="v" x="236" y="13889">Prawn Biryani</text>
<text class="v" x="211" y="13931">Vegetable Biryani</text>
<text class="d" x="280" y="13973">Moroccan Lentil Soup</text>
<text class="t" x="240" y="14015">Spicy Vegan Potato Curry</text>
<text class="t" x="238" y="14057">Black Chana with Potato</text>
<text class="v" x="180" y="14099">Keema Aloo (Ground Beef and Potatoes)</text>
<text class="v" x="202" y="14141">Minced Beef with Black-Eyed Beans</text>
<text class="d" x="287" y="14183">Egyptian Koshari</text>
<text class="t" x="212" y="14225">Red Split Lentils (Masoor Dal)</text>
<text class="t" x="286" y="14267">Red Lentil Curry</text>
<text class="v" x="213" y="14309">Pakistani Style Vegetables</text>
<text class="v" x="170" y="14351">Chicken Biryani</text>
<text class="v" x="210" y="14393">Biriyani</text>
<text class="t" x="201" y="14435">Indian Chicken Curry II</text>
<text class="d" x="263" y="14477">African Curry</text>
<text class="t" x="254" y="14519">Easy Indian Butter Chicken</text>
<text class="t" x="183" y="14561">Curry Stand Chicken Tikka Masala Sauce</text>
<text class="t" x="182" y="14603">Chicken Tikka Masala</text>
<text class="t" x="170" y="14645">Grilled Chicken Thighs Tandoori</text>
<text class="v" x="226" y="14687">Kokus Mango Chutney from Pakistan</text>
<text class="v" x="236" y="14729">Pakistani Potato Chicken</text>
<text class="t" x="201" y="14771">Slow Cooker Butter Chicken</text>
<text class="r" x="114" y="14813">Chef John's Chicken Tikka Masala</text>
<text class="t" x="153" y="14855">Kashmiri Lamb</text>
<text class="v" x="133" y="14897">Butter Lamb Gravy</text>
<text class="d" x="50" y="14940">Lamb Tagine</text>
</g>
<g id="node-values" class="num">
<text class="k" x="907" y="63">0.181</text><text class="m" x="845" y="93">0.2097</text><text class="m" x="837" y="131">0.2188</text><text class="r" x="818" y="197">0.222</text><text class="k" x="853" y="231">0.2059</text><text class="k" x="832" y="262">0.216</text><text class="o" x="812" y="291">0.2254</text><text class="r" x="1087" y="357">0.0984</text><text class="r" x="920" y="387">0.1749</text><text class="o" x="812" y="453">0.2254</text><text class="o" x="934" y="483">0.1681</text><text class="o" x="872" y="513">0.1973</text><text class="o" x="872" y="562">0.1973</text><text class="o" x="855" y="617">0.2153</text><text class="o" x="893" y="609">0.1872</text><text class="o" x="798" y="745">0.232</text><text class="o" x="893" y="735">0.187</text><text class="o" x="863" y="765">0.2008</text><text class="r" x="820" y="828">0.2211</text><text class="k" x="833" y="861">0.2152</text><text class="r" x="823" y="888">0.2194</text><text class="k" x="808" y="906">0.2267</text><text class="k" x="798" y="940">0.232</text><text class="o" x="810" y="990">0.2267</text><text class="o" x="798" y="1035">0.232</text><text class="k" x="787" y="1100">0.2374</text><text class="r" x="832" y="1197">0.216</text><text class="r" x="807" y="1227">0.2271</text>
<text class="m" x="777" y="1265">0.2419</text><text class="r" x="810" y="1262">0.227</text><text class="k" x="818" y="1365">0.222</text><text class="k" x="818" y="1395">0.2232</text><text class="m" x="767" y="1388">0.2459</text><text class="k" x="776" y="1431">0.2415</text><text class="m" x="756" y="1495">0.2511</text><text class="k" x="857" y="1572">0.2036</text><text class="y" x="740" y="1597">0.2608</text><text class="m" x="756" y="1605">0.2511</text><text class="k" x="741" y="1698">0.2584</text><text class="y" x="725" y="1727">0.2634</text><text class="y" x="748" y="1782">0.2549</text><text class="y" x="748" y="1815">0.2549</text><text class="y" x="736" y="1852">0.2608</text><text class="k" x="725" y="1883">0.2654</text><text class="m" x="748" y="1950">0.2555</text><text class="m" x="736" y="1993">0.2604</text><text class="m" x="740" y="2030">0.2604</text><text class="k" x="725" y="2048">0.2694</text><text class="y" x="704" y="2142">0.2765</text><text class="l" x="730" y="2203">0.2685</text><text class="l" x="740" y="2235">0.2685</text><text class="y" x="702" y="2245">0.2765</text><text class="o" x="702" y="2320">0.2765</text><text class="o" x="688" y="2375">0.2829</text><text class="o" x="676" y="2425">0.2889</text>
<text class="n" x="841" y="2538">0.2114</text><text class="k" x="784" y="2572">0.238</text><text class="c" x="780" y="2616">0.2399</text><text class="k" x="780" y="2666">0.2399</text><text class="c" x="765" y="2719">0.2477</text><text class="v" x="750" y="2766">0.2541</text><text class="k" x="670" y="2705">0.2921</text><text class="p" x="713" y="2860">0.2717</text><text class="p" x="774" y="2874">0.2429</text><text class="p" x="726" y="2908">0.2654</text><text class="p" x="713" y="2952">0.2717</text><text class="p" x="726" y="3000">0.2653</text><text class="y" x="618" y="2950">0.315</text><text class="p" x="618" y="3090">0.3158</text><text class="k" x="780" y="3084">0.2404</text><text class="p" x="752" y="3114">0.2532</text><text class="m" x="827" y="3294">0.2176</text><text class="m" x="807" y="3323">0.2209</text><text class="m" x="720" y="3363">0.2687</text><text class="m" x="691" y="3403">0.2715</text><text class="m" x="676" y="3467">0.2887</text><text class="y" x="605" y="3465">0.3222</text><text class="m" x="698" y="3505">0.2788</text><text class="m" x="698" y="3535">0.2788</text><text class="k" x="658" y="3603">0.2974</text><text class="y" x="928" y="3630">0.1704</text><text class="y" x="858" y="3660">0.2039</text><text class="y" x="743" y="3698">0.2572</text><text class="y" x="598" y="3725">0.3256</text><text class="y" x="710" y="3738">0.2728</text>
<text class="y" x="628" y="3840">0.3105</text><text class="m" x="710" y="3840">0.2728</text><text class="k" x="672" y="3870">0.2905</text><text class="k" x="525" y="3875">0.3595</text><text class="b" x="525" y="3985">0.3595</text><text class="c" x="518" y="4068">0.368</text><text class="k" x="555" y="4092">0.3458</text><text class="b" x="500" y="4197">0.3708</text><text class="k" x="588" y="4218">0.3293</text><text class="k" x="547" y="4248">0.3486</text><text class="k" x="535" y="4285">0.3544</text><text class="c" x="535" y="4323">0.3544</text><text class="q" x="725" y="4427">0.2683</text><text class="q" x="693" y="4457">0.281</text><text class="q" x="683" y="4493">0.2883</text><text class="q" x="670" y="4578">0.2932</text><text class="q" x="713" y="4593">0.2719</text><text class="q" x="680" y="4625">0.2873</text><text class="q" x="670" y="4660">0.2873</text><text class="q" x="656" y="4723">0.2984</text><text class="q" x="645" y="4772">0.3032</text><text class="q" x="628" y="4820">0.3137</text><text class="q" x="605" y="4865">0.3235</text><text class="k" x="590" y="4917">0.3264</text><text class="b" x="487" y="4935">0.3781</text><text class="p" x="672" y="4972">0.2909</text>
<text class="q" x="585" y="5062">0.3315</text><text class="q" x="740" y="5055">0.2585</text><text class="q" x="665" y="5088">0.2939</text><text class="q" x="657" y="5127">0.2981</text><text class="p" x="640" y="5162">0.3097</text><text class="q" x="578" y="5175">0.3051</text><text class="k" x="613" y="5205">0.3187</text><text class="q" x="565" y="5315">0.3407</text><text class="p" x="615" y="5350">0.3174</text><text class="p" x="587" y="5383">0.3312</text><text class="p" x="600" y="5420">0.3312</text><text class="k" x="560" y="5428">0.3441</text><text class="q" x="578" y="5458">0.3355</text><text class="c" x="532" y="5515">0.3568</text><text class="b" x="450" y="5530">0.3941</text><text class="b" x="518" y="5602">0.3684</text><text class="b" x="593" y="5602">0.3277</text><text class="b" x="502" y="5672">0.3703</text><text class="b" x="577" y="5685">0.3347</text><text class="c" x="605" y="5810">0.322</text><text class="c" x="578" y="5845">0.3352</text><text class="c" x="535" y="5880">0.3532</text><text class="p" x="518" y="5947">0.3631</text><text class="k" x="530" y="5980">0.3575</text><text class="p" x="518" y="6010">0.3631</text><text class="c" x="485" y="6025">0.3783</text><text class="k" x="528" y="6107">0.3593</text><text class="b" x="468" y="6123">0.3864</text><text class="b" x="440" y="6148">0.3995</text><text class="b" x="535" y="6190">0.3553</text><text class="b" x="490" y="6220">0.3758</text>
<text class="b" x="545" y="6315">0.3508</text><text class="b" x="532" y="6345">0.3538</text><text class="b" x="532" y="6392">0.3556</text><text class="b" x="532" y="6440">0.3558</text><text class="b" x="532" y="6460">0.3558</text><text class="b" x="540" y="6525">0.3517</text><text class="b" x="440" y="6513">0.3995</text><text class="b" x="502" y="6587">0.3697</text><text class="c" x="547" y="6610">0.3489</text><text class="k" x="542" y="6640">0.3511</text><text class="p" x="532" y="6678">0.3558</text><text class="b" x="478" y="6693">0.3609</text><text class="b" x="518" y="6718">0.3628</text><text class="b" x="445" y="6765">0.3775</text><text class="b" x="430" y="6907">0.404</text><text class="c" x="545" y="6945">0.3503</text><text class="c" x="532" y="6975">0.3584</text><text class="c" x="532" y="7022">0.3564</text><text class="c" x="575" y="7070">0.3359</text><text class="c" x="505" y="7105">0.3894</text><text class="k" x="430" y="7168">0.404</text><text class="k" x="533" y="7155">0.3551</text><text class="c" x="517" y="7185">0.3639</text><text class="c" x="500" y="7208">0.3717</text><text class="b" x="593" y="7282">0.3274</text><text class="b" x="462" y="7295">0.3688</text><text class="k" x="500" y="7310">0.3717</text><text class="d" x="400" y="7318">0.4175</text><text class="d" x="385" y="7445">0.4267</text>
<text class="k" x="470" y="7530">0.3858</text><text class="d" x="360" y="7573">0.427</text><text class="d" x="425" y="7573">0.4063</text><text class="c" x="438" y="7615">0.4008</text><text class="d" x="337" y="7668">0.4478</text><text class="k" x="455" y="7698">0.3928</text><text class="d" x="308" y="7762">0.4587</text><text class="k" x="405" y="7825">0.4161</text><text class="d" x="282" y="7845">0.4709</text><text class="k" x="368" y="7857">0.4338</text><text class="d" x="327" y="7992">0.4523</text><text class="d" x="317" y="8027">0.457</text><text class="c" x="305" y="8088">0.4629</text><text class="k" x="327" y="8118">0.4519</text><text class="t" x="312" y="8153">0.4592</text><text class="d" x="282" y="8232">0.4735</text><text class="d" x="372" y="8243">0.4311</text><text class="d" x="325" y="8277">0.4526</text><text class="d" x="305" y="8370">0.4633</text><text class="d" x="305" y="8405">0.4633</text><text class="d" x="282" y="8448">0.4728</text><text class="d" x="317" y="8495">0.4573</text><text class="r" x="705" y="8580">0.2749</text><text class="r" x="682" y="8613">0.2833</text><text class="k" x="682" y="8658">0.2833</text><text class="k" x="692" y="8705">0.2817</text><text class="k" x="648" y="8722">0.3022</text>
<text class="k" x="660" y="8790">0.2964</text><text class="m" x="645" y="8813">0.3028</text><text class="m" x="700" y="8875">0.2781</text><text class="m" x="635" y="8898">0.3061</text><text class="k" x="665" y="8908">0.2943</text><text class="k" x="605" y="8958">0.3219</text><text class="r" x="605" y="9037">0.3219</text><text class="c" x="705" y="9085">0.2758</text><text class="k" x="642" y="9115">0.3047</text><text class="r" x="598" y="9160">0.3254</text><text class="r" x="683" y="9210">0.2859</text><text class="r" x="630" y="9240">0.31</text><text class="r" x="570" y="9258">0.3379</text><text class="r" x="618" y="9280">0.3153</text><text class="r" x="548" y="9412">0.3482</text><text class="k" x="695" y="9420">0.2791</text><text class="k" x="672" y="9452">0.2908</text><text class="k" x="672" y="9488">0.2908</text><text class="k" x="645" y="9530">0.3034</text><text class="c" x="608" y="9568">0.3207</text><text class="k" x="548" y="9577">0.3484</text><text class="m" x="640" y="9673">0.3058</text><text class="m" x="575" y="9703">0.3368</text><text class="m" x="543" y="9722">0.3517</text><text class="k" x="560" y="9740">0.3437</text><text class="k" x="610" y="9840">0.3202</text><text class="k" x="548" y="9872">0.3482</text><text class="o" x="515" y="9882">0.3645</text><text class="o" x="562" y="9965">0.3416</text>
<text class="o" x="530" y="9998">0.3565</text><text class="o" x="515" y="10045">0.3636</text><text class="k" x="570" y="10093">0.3376</text><text class="l" x="662" y="10177">0.2955</text><text class="l" x="583" y="10207">0.3322</text><text class="o" x="515" y="10227">0.3645</text><text class="l" x="562" y="10255">0.342</text><text class="l" x="603" y="10303">0.3227</text><text class="l" x="557" y="10373">0.3445</text><text class="p" x="652" y="10387">0.3005</text><text class="p" x="650" y="10417">0.3041</text><text class="k" x="613" y="10453">0.3178</text><text class="m" x="567" y="10492">0.3392</text><text class="o" x="527" y="10573">0.3581</text><text class="k" x="593" y="10593">0.3271</text><text class="y" x="593" y="10627">0.3271</text><text class="o" x="575" y="10663">0.3333</text><text class="y" x="572" y="10713">0.3375</text><text class="o" x="505" y="10710">0.3682</text><text class="o" x="557" y="10770">0.3431</text><text class="k" x="603" y="10760">0.323</text><text class="r" x="572" y="10888">0.3375</text><text class="m" x="572" y="10920">0.3375</text><text class="m" x="562" y="10958">0.3419</text><text class="m" x="552" y="11040">0.3462</text><text class="r" x="767" y="11057">0.2461</text><text class="o" x="710" y="11088">0.2726</text><text class="l" x="467" y="11020">0.3662</text><text class="k" x="518" y="11122">0.3622</text><text class="m" x="565" y="11125">0.3415</text><text class="o" x="518" y="11192">0.3622</text>
<text class="k" x="612" y="11265">0.3192</text><text class="l" x="445" y="11390">0.3968</text><text class="l" x="622" y="11392">0.314</text><text class="l" x="622" y="11423">0.314</text><text class="l" x="570" y="11460">0.3389</text><text class="l" x="515" y="11525">0.3844</text><text class="l" x="522" y="11560">0.3604</text><text class="l" x="522" y="11593">0.3604</text><text class="l" x="472" y="11640">0.3852</text><text class="l" x="500" y="11685">0.3711</text><text class="l" x="500" y="11718">0.3711</text><text class="l" x="493" y="11753">0.374</text><text class="l" x="445" y="11763">0.3931</text><text class="n" x="382" y="11783">0.4264</text><text class="l" x="487" y="11853">0.3772</text><text class="l" x="472" y="11887">0.3845</text><text class="n" x="580" y="11980">0.3339</text><text class="n" x="553" y="12010">0.3466</text><text class="n" x="445" y="12048">0.3972</text><text class="n" x="405" y="12095">0.4151</text><text class="n" x="352" y="12105">0.4403</text><text class="n" x="453" y="12147">0.3933</text><text class="n" x="382" y="12180">0.4264</text><text class="n" x="523" y="12230">0.3598</text><text class="n" x="417" y="12260">0.4096</text><text class="n" x="395" y="12358">0.4204</text><text class="n" x="395" y="12388">0.4204</text><text class="n" x="385" y="12427">0.4258</text>
<text class="n" x="315" y="12490">0.4578</text><text class="n" x="525" y="12525">0.3591</text><text class="n" x="445" y="12555">0.3975</text><text class="k" x="402" y="12603">0.4172</text><text class="d" x="473" y="12650">0.383</text><text class="n" x="378" y="12658">0.4279</text><text class="v" x="355" y="12733">0.4386</text><text class="n" x="483" y="12778">0.3787</text><text class="n" x="435" y="12808">0.4014</text><text class="n" x="355" y="12807">0.4202</text><text class="n" x="282" y="12758">0.4698</text><text class="p" x="333" y="12877">0.4498</text><text class="n" x="343" y="12945">0.4443</text><text class="k" x="282" y="12950">0.4723</text><text class="n" x="340" y="13030">0.4455</text><text class="d" x="413" y="13113">0.4119</text><text class="d" x="342" y="13143">0.4448</text><text class="t" x="312" y="13240">0.459</text><text class="t" x="282" y="13270">0.4728</text><text class="t" x="282" y="13318">0.4733</text><text class="v" x="323" y="13365">0.4537</text><text class="t" x="460" y="13488">0.3896</text><text class="t" x="360" y="13530">0.4373</text><text class="t" x="377" y="13572">0.4288</text><text class="t" x="322" y="13610">0.4549</text><text class="v" x="332" y="13657">0.4501</text><text class="v" x="332" y="13690">0.4501</text>
<text class="v" x="145" y="13750">0.468</text><text class="k" x="257" y="13783">0.4101</text><text class="v" x="237" y="13815">0.4209</text><text class="v" x="197" y="13852">0.4462</text><text class="t" x="88" y="13890">0.4993</text><text class="v" x="172" y="13890">0.4586</text><text class="v" x="127" y="13968">0.4768</text><text class="t" x="213" y="13992">0.4328</text><text class="t" x="197" y="14025">0.4406</text><text class="t" x="175" y="14062">0.4519</text><text class="k" x="165" y="14100">0.4577</text><text class="v" x="115" y="14168">0.4638</text><text class="t" x="192" y="14202">0.4439</text><text class="t" x="185" y="14235">0.4474</text><text class="k" x="148" y="14270">0.4661</text><text class="v" x="125" y="14371">0.478</text><text class="k" x="60" y="14373">0.5116</text><text class="t" x="200" y="14455">0.4386</text><text class="t" x="158" y="14495">0.4611</text><text class="t" x="182" y="14538">0.4482</text><text class="t" x="137" y="14550">0.4711</text><text class="t" x="100" y="14622">0.4909</text><text class="d" x="50" y="14632">0.5171</text><text class="v" x="145" y="14663">0.4681</text><text class="v" x="145" y="14697">0.4681</text><text class="t" x="92" y="14707">0.4962</text><text class="t" x="103" y="14790">0.4985</text><text class="k" x="35" y="14785">0.6251</text>
</g>
<g id="clade-labels" class="cl">
<text x="1490" y="1000">European</text>
<text x="1370" y="3640">Cabbage</text>
<text x="1370" y="3708">Russian/German</text>
<text x="1220" y="4855">Korean/Japanese</text>
<text x="1172" y="6260">Chinese</text>
<text x="1165" y="6828">Filipino</text>
<text x="845" y="8203">African</text>
<text x="1305" y="9015">Unknown</text>
<text x="1043" y="10055">Italian</text>
<text x="1093" y="11577">Italian</text>
<text x="1043" y="12173">Hispanic</text>
<text x="775" y="13768">Indian/Pakistani</text>
</g>
</g>
</svg>
